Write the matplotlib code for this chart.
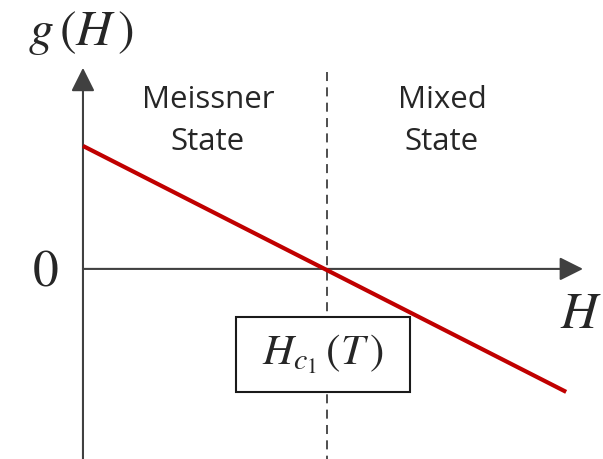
import matplotlib
matplotlib.use("Agg")
import matplotlib.pyplot as plt
from matplotlib.patches import Rectangle

plt.rcParams['mathtext.fontset'] = 'stix'

# free energy g(H), linear in H, crossing zero at Hc1
H_line = [0.0, 1.98]
g_line = [0.504, -0.504]
Hc1 = 1.0

region_labels = ['Meissner\nState', 'Mixed\nState']
region_x = [0.512, 1.471]

axis_col = '#404040'
text_col = '#262626'

fig = plt.figure(figsize=(6.03, 4.59), dpi=100)
ax = fig.add_axes([0, 0, 1, 1])
ax.set_xlim(-0.340, 2.131)
ax.set_ylim(-0.779, 1.102)
ax.axis('off')

# axes with arrow heads
arrow = dict(arrowstyle='-|>', mutation_scale=36, color=axis_col, lw=1.5,
             shrinkA=0, shrinkB=0)
ax.annotate('', xy=(0, 0.824), xytext=(0, -0.779), arrowprops=arrow)
ax.annotate('', xy=(2.049, 0), xytext=(0, 0), arrowprops=arrow)

# boundary between the two states
ax.plot([Hc1, Hc1], [0.806, -0.779], color=axis_col, lw=1.3,
        dashes=(5, 3.5), zorder=1)

ax.plot(H_line, g_line, color='#C00000', lw=3, solid_capstyle='butt', zorder=3)

for lab, x in zip(region_labels, region_x):
    ax.text(x, 0.752, lab, ha='center', va='top', fontsize=22.5,
            family='Open Sans', color=text_col, linespacing=1.5)

ax.text(-0.008, 0.918, r'$g\,(H\,)$', ha='center', va='baseline', fontsize=36,
        color=text_col)
ax.text(-0.156, -0.012, r'$0$', ha='center', va='center', fontsize=37,
        color=text_col)
ax.text(2.041, -0.242, r'$H$', ha='center', va='baseline', fontsize=37,
        color=text_col)

# label box for Hc1
ax.add_patch(Rectangle((0.627, -0.504), 0.713, 0.307, facecolor='white',
                       edgecolor='#1a1a1a', lw=1.5, zorder=4))
ax.text(0.983, -0.35, r'$H_{c_1}\,(T\,)$', ha='center', va='center',
        fontsize=31, color=text_col, zorder=5)

fig.savefig('out.png', dpi=100)
